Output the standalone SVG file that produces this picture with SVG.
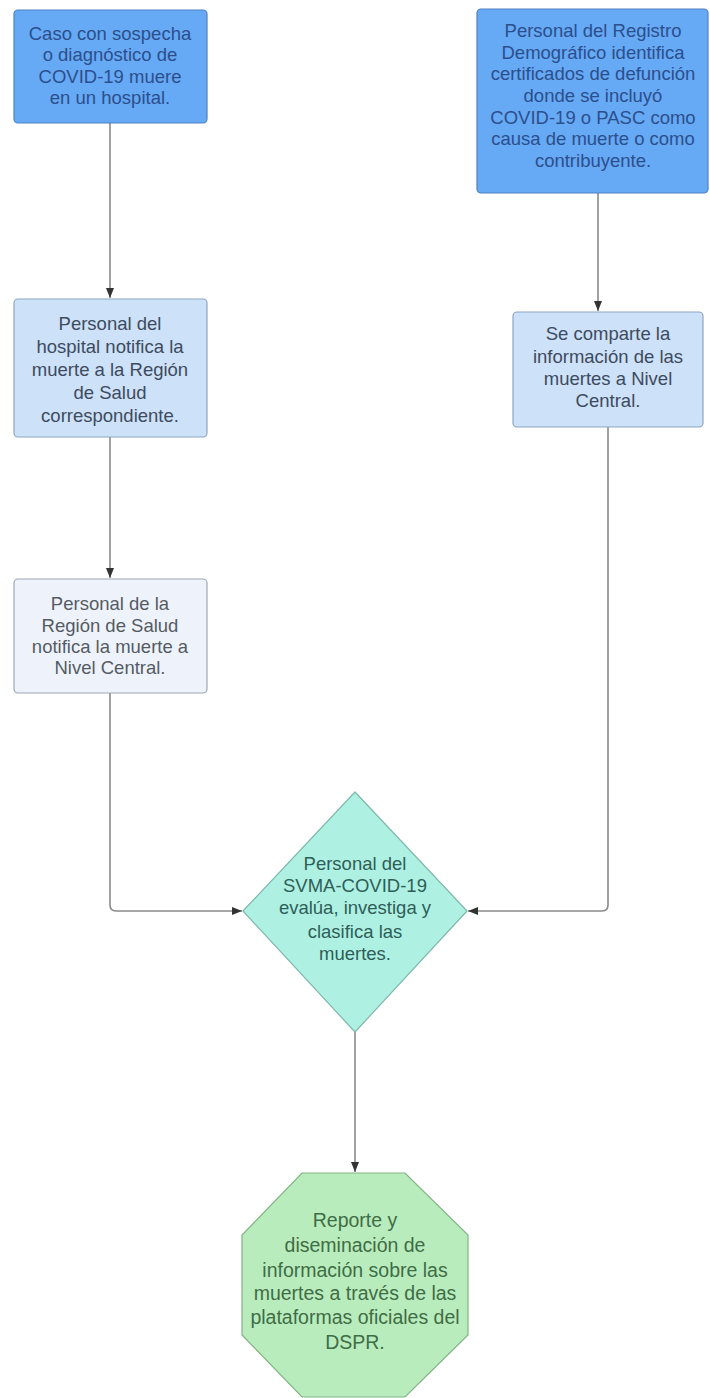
<svg xmlns="http://www.w3.org/2000/svg" width="710" height="1398" viewBox="0 0 710 1398">
<style>
text{font-family:"Liberation Sans",Arial,sans-serif;font-size:18.5px;text-anchor:middle}
.b1{fill:#66a9f5;stroke:#4f82c4;stroke-width:1.2}
.b3{fill:#cde1f8;stroke:#8fa5c2;stroke-width:1.2}
.b5{fill:#eef3fb;stroke:#9aa7b6;stroke-width:1.2}
.dia{fill:#aef1e3;stroke:#7fb8ab;stroke-width:1.2}
.oct{fill:#b9ecbd;stroke:#83b385;stroke-width:1.2}
.t1{fill:#2c4f8c}
.t3{fill:#3d4b60}
.t5{fill:#555b63}
.td{fill:#2e5e57}
.to{fill:#3f6d45;font-size:19.5px}
.conn{fill:none;stroke:#8a8a8a;stroke-width:1.6}
</style>
<defs>
<marker id="arr" markerUnits="userSpaceOnUse" markerWidth="12" markerHeight="12" viewBox="0 0 12 12" refX="11" refY="6" orient="auto">
<path d="M1,2 L11,6 L1,10 Z" fill="#333"/>
</marker>
</defs>
<rect width="710" height="1398" fill="#ffffff"/>
<g id="connectors">
<path class="conn" d="M110,123 V298" marker-end="url(#arr)"/>
<path class="conn" d="M598,193 V311" marker-end="url(#arr)"/>
<path class="conn" d="M110,437 V578" marker-end="url(#arr)"/>
<path class="conn" d="M110,693 V905 Q110,911 116,911 H242" marker-end="url(#arr)"/>
<path class="conn" d="M608,427 V905 Q608,911 602,911 H468" marker-end="url(#arr)"/>
<path class="conn" d="M355,1032 V1172" marker-end="url(#arr)"/>
</g>
<g id="n1">
<rect class="b1" x="14" y="10" width="193" height="113" rx="4"/>
<text class="t1" x="110" y="40">Caso con sospecha</text>
<text class="t1" x="110" y="61">o diagnóstico de</text>
<text class="t1" x="110" y="83">COVID-19 muere</text>
<text class="t1" x="110" y="104">en un hospital.</text>
</g>
<g id="n2">
<rect class="b1" x="477" y="9" width="231" height="184" rx="4"/>
<text class="t1" x="593" y="37">Personal del Registro</text>
<text class="t1" x="593" y="59">Demográfico identifica</text>
<text class="t1" x="593" y="80">certificados de defunción</text>
<text class="t1" x="593" y="102">donde se incluyó</text>
<text class="t1" x="593" y="124">COVID-19 o PASC como</text>
<text class="t1" x="593" y="145">causa de muerte o como</text>
<text class="t1" x="593" y="167">contribuyente.</text>
</g>
<g id="n3">
<rect class="b3" x="14" y="299" width="193" height="138" rx="4"/>
<text class="t3" x="110" y="330">Personal del</text>
<text class="t3" x="110" y="353">hospital notifica la</text>
<text class="t3" x="110" y="376">muerte a la Región</text>
<text class="t3" x="110" y="399">de Salud</text>
<text class="t3" x="110" y="422">correspondiente.</text>
</g>
<g id="n4">
<rect class="b3" x="513" y="312" width="190" height="115" rx="4"/>
<text class="t3" x="608" y="340">Se comparte la</text>
<text class="t3" x="608" y="363">información de las</text>
<text class="t3" x="608" y="385">muertes a Nivel</text>
<text class="t3" x="608" y="407">Central.</text>
</g>
<g id="n5">
<rect class="b5" x="14" y="579" width="193" height="114" rx="4"/>
<text class="t5" x="110" y="610">Personal de la</text>
<text class="t5" x="110" y="632">Región de Salud</text>
<text class="t5" x="110" y="653">notifica la muerte a</text>
<text class="t5" x="110" y="674">Nivel Central.</text>
</g>
<g id="n6">
<path class="dia" d="M355,792 L467,911 L355,1032 L243,911 Z" stroke-linejoin="round"/>
<text class="td" x="355" y="870">Personal del</text>
<text class="td" x="355" y="892">SVMA-COVID-19</text>
<text class="td" x="355" y="914">evalúa, investiga y</text>
<text class="td" x="355" y="938">clasifica las</text>
<text class="td" x="355" y="960">muertes.</text>
</g>
<g id="n7">
<path class="oct" d="M302,1173 L405,1173 L468,1235 L468,1335 L405,1397 L302,1397 L242,1335 L242,1235 Z"/>
<text class="to" x="355" y="1227">Reporte y</text>
<text class="to" x="355" y="1252">diseminación de</text>
<text class="to" x="355" y="1277">información sobre las</text>
<text class="to" x="355" y="1300">muertes a través de las</text>
<text class="to" x="355" y="1324">plataformas oficiales del</text>
<text class="to" x="355" y="1349">DSPR.</text>
</g>
</svg>
